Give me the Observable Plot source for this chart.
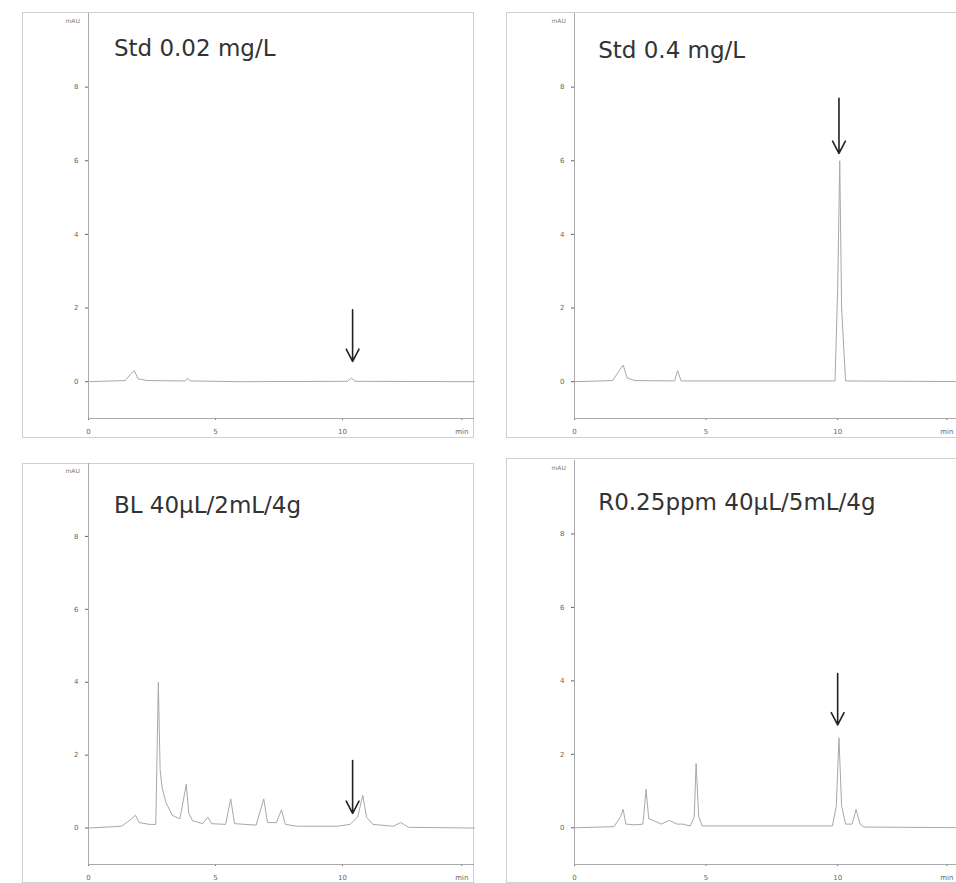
<!DOCTYPE html>
<html><head><meta charset="utf-8">
<script src="https://cdn.jsdelivr.net/npm/d3@7"></script>
<script src="https://cdn.jsdelivr.net/npm/@observablehq/plot@0.6"></script>
<style>
html,body{margin:0;padding:0;background:#fff;overflow:hidden;}
#wrap{position:relative;width:956px;height:883px;overflow:hidden;background:#fff;}
.panel{position:absolute;outline:1px solid #d0d0d0;outline-offset:-1px;}
.panel svg{position:absolute;left:0;top:0;overflow:visible;}
</style></head><body><div id="wrap"></div>
<script>
// ---- data (retention time in min, absorbance in mAU) ----
const titles = ["Std 0.02 mg/L", "Std 0.4 mg/L", "BL 40\u03BCL/2mL/4g", "R0.25ppm 40\u03BCL/5mL/4g"];

const std002Time = [0, 1.45, 1.65, 1.8, 1.95, 2.3, 3.8, 3.9, 4.0, 6.0, 10.2, 10.35, 10.5, 15.2];
const std002Abs  = [0, 0.03, 0.2, 0.3, 0.08, 0.03, 0.02, 0.1, 0.02, 0.0, 0.01, 0.1, 0.01, 0];

const std04Time = [0, 1.45, 1.7, 1.85, 2.0, 2.3, 3.8, 3.92, 4.05, 9.9, 10.0, 10.08, 10.15, 10.3, 15.2];
const std04Abs  = [0, 0.03, 0.3, 0.45, 0.1, 0.03, 0.02, 0.3, 0.02, 0.02, 2.5, 6.0, 2.0, 0.02, 0];

const blTime = [0, 1.3, 1.6, 1.85, 2.0, 2.4, 2.65, 2.75, 2.82, 2.9, 3.05, 3.3, 3.6, 3.85, 3.95, 4.1, 4.5, 4.7, 4.85, 5.4, 5.6, 5.75, 6.6, 6.9, 7.05, 7.4, 7.6, 7.75, 8.2, 9.8, 10.3, 10.6, 10.8, 10.95, 11.2, 12.0, 12.3, 12.6, 15.2];
const blAbs  = [0, 0.05, 0.2, 0.35, 0.15, 0.1, 0.1, 4.0, 1.6, 1.1, 0.7, 0.35, 0.25, 1.2, 0.4, 0.2, 0.12, 0.3, 0.12, 0.1, 0.8, 0.12, 0.08, 0.8, 0.15, 0.15, 0.5, 0.1, 0.05, 0.05, 0.1, 0.3, 0.9, 0.3, 0.1, 0.05, 0.15, 0.02, 0];

const rTime = [0, 1.5, 1.75, 1.85, 1.95, 2.3, 2.6, 2.72, 2.82, 3.0, 3.3, 3.6, 3.9, 4.1, 4.4, 4.55, 4.62, 4.72, 4.85, 9.8, 9.95, 10.05, 10.15, 10.3, 10.55, 10.7, 10.85, 11.0, 15.2];
const rAbs  = [0, 0.03, 0.3, 0.5, 0.1, 0.08, 0.1, 1.05, 0.25, 0.2, 0.1, 0.2, 0.1, 0.1, 0.05, 0.3, 1.75, 0.3, 0.05, 0.05, 0.6, 2.45, 0.6, 0.1, 0.1, 0.5, 0.1, 0.02, 0];

// arrows marking the analyte peak
const arrowTime = [10.4, 10.05, 10.4, 10.0];
const arrowFrom = [1.95, 7.7, 1.85, 4.2];
const arrowTo   = [0.55, 6.2, 0.4, 2.8];

const yTickValues = [0, 2, 4, 6, 8];
const xTickValues = [0, 5, 10];
const xUnitLabel = "min";

// ---- layout ----
const panels = [
  {time: std002Time, abs: std002Abs, left: 22,  top: 12,  w: 452, h: 426, ml: 66, mt: 1, mb: 20, unitAt: 14.7},
  {time: std04Time,  abs: std04Abs,  left: 506, top: 12,  w: 468, h: 426, ml: 68, mt: 1, mb: 20, unitAt: 14.15},
  {time: blTime,     abs: blAbs,     left: 22,  top: 463, w: 452, h: 420, ml: 66, mt: 0, mb: 19, unitAt: 14.7},
  {time: rTime,      abs: rAbs,      left: 506, top: 458, w: 468, h: 425, ml: 68, mt: 2, mb: 19, unitAt: 14.15}
];
const titlePos = [{x: 1.0, y: 9.05}, {x: 0.9, y: 9.0}, {x: 1.0, y: 8.85}, {x: 0.9, y: 8.85}];

const wrap = document.getElementById("wrap");
panels.forEach((p, i) => {
  const series = p.time.map((t, k) => ({t, a: p.abs[k]}));
  const arrow = [{x: arrowTime[i], y1: arrowFrom[i], y2: arrowTo[i]}];
  const ticks = [...xTickValues, p.unitAt];
  const svg = Plot.plot({
    width: p.w, height: p.h,
    marginLeft: p.ml, marginRight: 0, marginTop: p.mt, marginBottom: p.mb,
    style: {fontFamily: "DejaVu Sans", fontSize: "7px", color: "#666", background: "transparent", overflow: "visible"},
    x: {domain: [0, 15.2], ticks, tickFormat: d => d === p.unitAt ? xUnitLabel : String(d), tickSize: 2, tickPadding: 9, label: null},
    y: {domain: [-1, 10], ticks: yTickValues, tickSize: 3, tickPadding: 7, label: null},
    marks: [
      Plot.ruleX([0], {stroke: "#aaa"}),
      Plot.ruleY([-1], {stroke: "#aaa"}),
      Plot.line(series, {x: "t", y: "a", stroke: "#a8a8a8", strokeWidth: 1}),
      Plot.arrow(arrow, {x1: "x", x2: "x", y1: "y1", y2: "y2", stroke: "#222", strokeWidth: 1.6, headLength: 13, headAngle: 55}),
      Plot.text([titles[i]], {x: titlePos[i].x, y: titlePos[i].y, text: d => d, textAnchor: "start", lineAnchor: "middle", fontSize: 23, fill: "#333", fontFamily: "DejaVu Sans"}),
      Plot.text(["mAU"], {text: d => d, frameAnchor: "top-left", dx: -23, dy: 5, fontSize: 6, fill: "#777"})
    ]
  });
  const div = document.createElement("div");
  div.className = "panel";
  Object.assign(div.style, {left: p.left + "px", top: p.top + "px", width: p.w + "px", height: p.h + "px"});
  div.appendChild(svg);
  wrap.appendChild(div);
});
</script>
</body></html>
